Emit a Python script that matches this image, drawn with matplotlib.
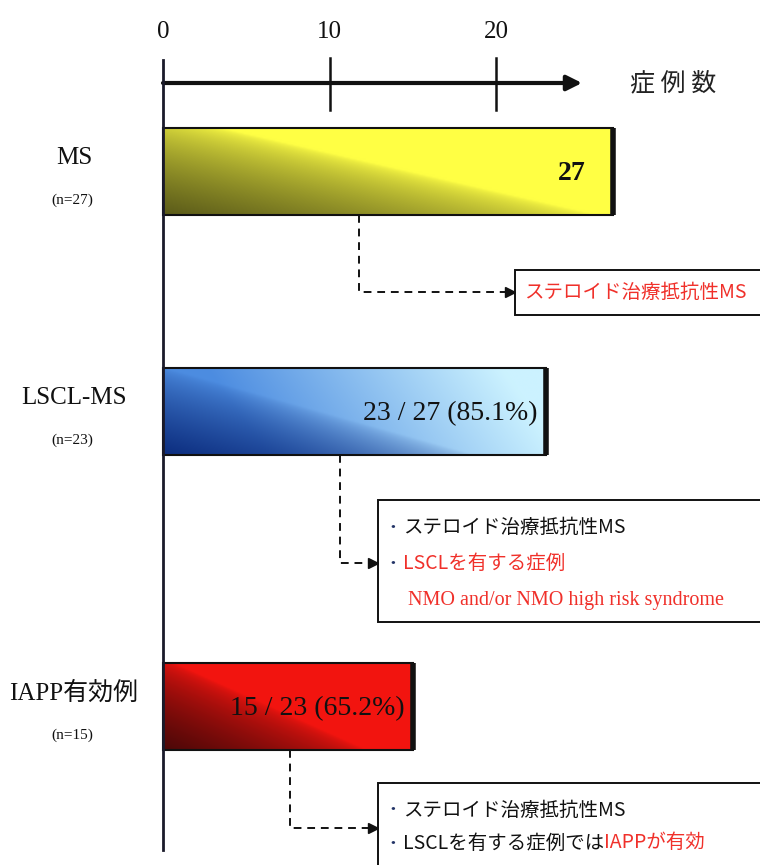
import numpy as np
import matplotlib.pyplot as plt
from matplotlib.patches import Rectangle

# ==========================
# DATA
# ==========================

groups = ["MS", "LSCL-MS", "IAPP有効例"]
group_n = ["(n=27)", "(n=23)", "(n=15)"]
counts = [27, 23, 15]
count_labels = ["27", "23 / 27 (85.1%)", "15 / 23 (65.2%)"]
axis_ticks = [0, 10, 20]
axis_title = "症 例 数"

# ==========================
# LAYOUT (figure pixels)
# ==========================

W, H = 760, 865
X0_PX = 163          # pixel position of zero
UNIT_PX = 16.65      # pixels per case
AXIS_Y = 83

bar_y = [171, 411, 706]
BAR_H = 87

SERIF = ["Liberation Serif", "Noto Sans CJK JP"]
JP = ["Noto Sans CJK JP", "DejaVu Sans"]
RED = "#f0302a"


def px(p):
    # pixel column -> data x
    return (p - X0_PX) / UNIT_PX


fig = plt.figure(figsize=(W / 100, H / 100), dpi=100)
ax = fig.add_axes([0, 0, 1, 1])
ax.axis("off")

# ==========================
# GRADIENT BARS
# ==========================


def gradient(light, dark, ku, kv, gamma, nx=300, ny=60, base=None):
    u = np.linspace(0, 1, nx)[None, :]
    v = np.linspace(1, 0, ny)[:, None]
    d = np.clip(1 - (u / ku + v / kv), 0, 1) ** gamma
    light = np.array(light)[None, None, :]
    dark = np.array(dark)[None, None, :]
    if base is not None:
        # horizontal blend first, then darken toward the lower left
        s = np.clip(u * 1.3 + v * 0.2 - 0.35, 0, 1)[..., None]
        light = np.array(base)[None, None, :] * (1 - s) + light * s
    return light * (1 - d[..., None]) + dark * d[..., None]


fills = [
    gradient((1.0, 1.0, 0.27), (0.36, 0.36, 0.1), 0.95, 1.15, 0.6),
    gradient((0.8, 0.95, 1.0), (0.05, 0.18, 0.5), 0.8, 1.0, 0.7,
             base=(0.3, 0.55, 0.88)),
    gradient((0.95, 0.08, 0.06), (0.3, 0.03, 0.03), 0.8, 1.05, 0.6),
]

bars = ax.barh(bar_y, counts, height=BAR_H, facecolor="none",
               edgecolor="#111111", linewidth=1.5, zorder=3)

for patch, img in zip(bars.patches, fills):
    x0, y0 = patch.get_x(), patch.get_y()
    x1, y1 = x0 + patch.get_width(), y0 + patch.get_height()
    im = ax.imshow(img, extent=(x0, x1, y1, y0), aspect="auto",
                   interpolation="bicubic", zorder=2)
    im.set_clip_path(patch)
    # darker right edge
    ax.plot([x1, x1], [y0, y1], color="#111111", lw=4, zorder=4,
            solid_capstyle="butt")

# ==========================
# AXIS
# ==========================

ax.plot([0, 0], [60, 850], color="#1a1a2a", lw=2, zorder=5)
ax.annotate("", xy=(px(582), AXIS_Y), xytext=(0, AXIS_Y),
            arrowprops=dict(arrowstyle="-|>,head_length=0.9,head_width=0.45",
                            lw=3, color="#111111", shrinkA=0, shrinkB=0))
for t in axis_ticks:
    if t > 0:
        ax.plot([t, t], [58, 110], color="#111111", lw=1.8)
    ax.text(t, 32, str(t), ha="center", va="center", fontsize=18,
            family=SERIF, color="#111111")
ax.text(px(673), AXIS_Y, axis_title, ha="center", va="center",
        fontsize=18, family=JP, color="#222222")

# ==========================
# LABELS
# ==========================

for yc, name, n in zip(bar_y, groups, group_n):
    ax.text(px(74), yc - 13, name, ha="center", va="center",
            fontsize=18, family=SERIF, color="#111111")
    ax.text(px(72), yc + 29, n, ha="center", va="center",
            fontsize=11, family=SERIF, color="#111111")

insets = [1.6, 0.5, 0.5]
bolds = ["bold", "normal", "normal"]
for yc, c, lab, ins, fw in zip(bar_y, counts, count_labels, insets, bolds):
    ax.text(c - ins, yc + 3, lab, ha="right", va="center", fontsize=20,
            family=SERIF, fontweight=fw, color="#111111", zorder=6)

# ==========================
# NOTE BOXES
# ==========================

boxes = [(515, 270, 315), (378, 500, 622), (378, 783, 880)]
for bx, ytop, ybot in boxes:
    ax.add_patch(Rectangle((px(bx), ytop), px(W + 20) - px(bx), ybot - ytop,
                           facecolor="white", edgecolor="#111111",
                           lw=1.4, zorder=3))

# dashed connectors from bar bottom to the boxes
links = [(359, 215, 292, 513), (340, 455, 563, 376), (290, 750, 828, 376)]
for vx, y0, yh, x1 in links:
    ax.plot([px(vx), px(vx), px(x1) - 0.25], [y0, yh, yh], color="#111111",
            lw=1.4, ls=(0, (4, 3)), zorder=4)
    ax.plot(px(x1) - 0.2, yh, marker=">", ms=7, color="#111111", zorder=5)

ax.text(px(524), 292, "ステロイド治療抵抗性MS", ha="left", va="center",
        fontsize=14, family=JP, color=RED, zorder=6)

note_lines = [
    (527, "ステロイド治療抵抗性MS", "#111111", True),
    (563, "LSCLを有する症例", RED, True),
    (600, "NMO and/or NMO high risk syndrome", RED, False),
    (810, "ステロイド治療抵抗性MS", "#111111", True),
]
for y, s, col, bullet in note_lines:
    if bullet:
        ax.text(px(384), y, "・", ha="left", va="center", fontsize=12,
                family=JP, color="#223366", zorder=6)
        ax.text(px(403), y, s, ha="left", va="center", fontsize=14,
                family=JP, color=col, zorder=6)
    else:
        ax.text(px(408), y, s, ha="left", va="center", fontsize=14.5,
                family=SERIF, color=col, zorder=6)

ax.text(px(384), 843, "・", ha="left", va="center", fontsize=12,
        family=JP, color="#223366", zorder=6)
first = ax.text(px(403), 843, "LSCLを有する症例では", ha="left",
                va="center", fontsize=14, family=JP, color="#111111",
                zorder=6)
ax.annotate("IAPPが有効", xy=(1, 0.5), xycoords=first, ha="left",
            va="center", fontsize=14, family=JP, color=RED, zorder=6)

ax.set_xlim(px(0), px(W))
ax.set_ylim(H, 0)

plt.savefig("out.png", dpi=100)
plt.close()
